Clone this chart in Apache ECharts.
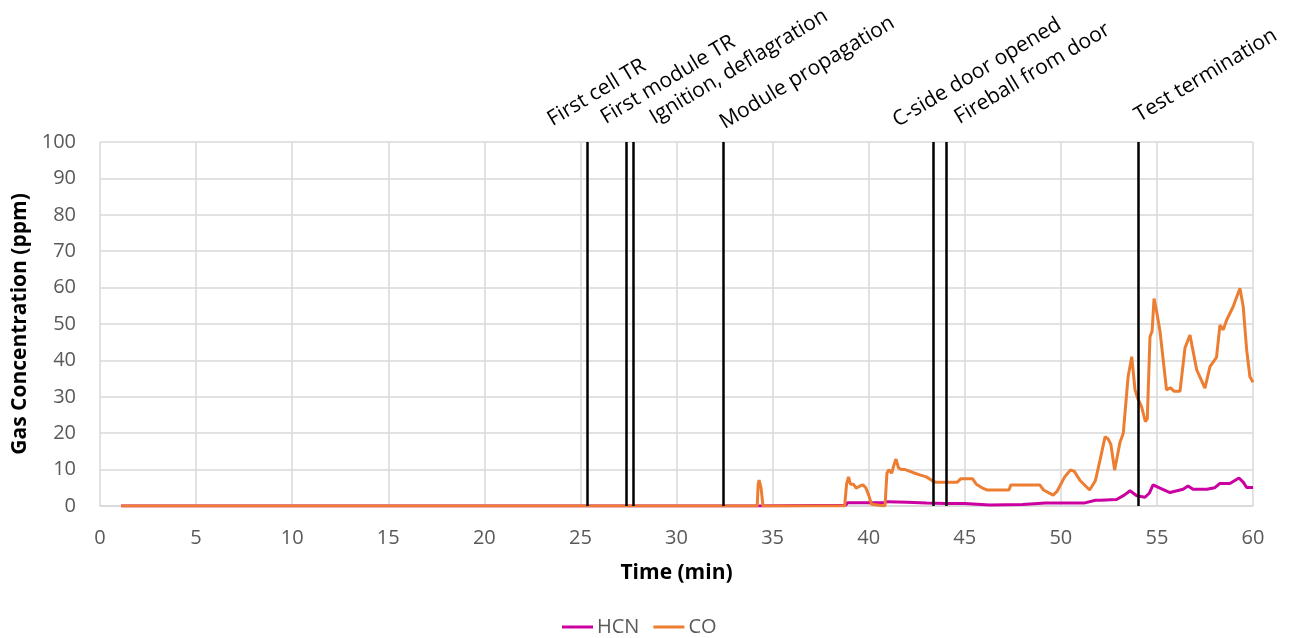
<!DOCTYPE html>
<html><head><meta charset="utf-8">
<script src="https://cdn.jsdelivr.net/npm/echarts@6/dist/echarts.min.js"></script>
<style>html,body{margin:0;padding:0;background:#fff}#c{width:1305px;height:638px}</style>
</head><body><div id="c"></div>
<script>
const xTicks = [0,5,10,15,20,25,30,35,40,45,50,55,60];
const yTicks = [0,10,20,30,40,50,60,70,80,90,100];

const coTime = [1.1,34.2,34.25,34.3,34.4,34.5,38.75,38.85,38.95,39.05,39.2,39.35,39.55,39.7,39.85,40.0,40.15,40.2,40.85,40.95,41.05,41.2,41.3,41.42,41.55,41.7,41.9,42.15,42.4,42.7,43.0,43.3,43.5,44.0,44.6,44.8,45.4,45.6,45.9,46.15,47.3,47.4,48.9,49.1,49.6,49.8,50.2,50.5,50.7,51.0,51.5,51.8,52.04,52.3,52.45,52.6,52.8,53.08,53.25,53.5,53.69,53.86,54.0,54.2,54.4,54.5,54.64,54.75,54.85,55.0,55.16,55.5,55.7,55.9,56.2,56.46,56.72,57.07,57.5,57.76,58.1,58.28,58.45,58.63,58.97,59.32,59.49,59.67,59.84,60];
const coVal = [0,0,6,7.1,5,0,0,6,8,6,6,4.9,5.5,5.8,5,3,0.5,0,0,9,10,9,11,12.9,10.5,10,10,9.5,9,8.5,8,7,6.5,6.5,6.5,7.5,7.5,6,5,4.4,4.4,5.8,5.8,4.4,3,4,8,9.9,9.5,7,4.4,7,12.6,19,18.5,17,9.9,17.5,20,35.5,41,31.9,29.6,27.3,23.2,24,46.5,48,57,53,48,31.9,32.5,31.5,31.5,43.4,47,37.4,32.4,38.3,40.8,49.7,48.4,51.1,54.8,59.8,54.8,42.9,35.5,34];

const hcnTime = [1.1,34.0,38.8,38.9,40.8,41.0,42,43,44,45,46.3,48,49.2,50,51.2,51.8,52.04,52.9,53.3,53.6,53.95,54.38,54.6,54.8,55.16,55.68,56.36,56.62,56.88,57.6,58.0,58.28,58.8,59.27,59.5,59.67,60];
const hcnVal = [0,0,0.2,0.9,0.9,1.2,1,0.8,0.7,0.7,0.3,0.4,0.8,0.8,0.8,1.6,1.6,1.8,3,4.2,2.8,2.4,3.5,5.8,4.9,3.7,4.6,5.5,4.6,4.6,5,6.2,6.2,7.7,6.5,5.1,5.1];

const eventTimes = [25.34,27.37,27.74,32.42,43.35,44.02,54.01];
const eventLabels = ['First cell TR','First module TR','Ignition, deflagration','Module propagation','C-side door opened','Fireball from door','Test termination'];
// label layout (pixel offsets from line top), not data
const labelDx = [-32,-18,24,4,-33,16,4];
const labelDy = [-12,-14,-14,-9,-11,-14,-16];

const FONT = 'Open Sans';
const chart = echarts.init(document.getElementById('c'), null, {renderer:'canvas'});
const zip = (a,b)=>a.map((t,i)=>[t,b[i]]);

chart.setOption({
  animation:false,
  textStyle:{fontFamily:FONT},
  grid:{left:100,right:52,top:142,bottom:132,containLabel:false},
  legend:{
    top:612,left:557,itemWidth:31,itemHeight:3,itemGap:14,icon:'rect',
    textStyle:{fontFamily:FONT,fontSize:20,color:'#595959',padding:[0,0,0,-1]},
    data:['HCN','CO']
  },
  xAxis:{
    type:'value',min:0,max:60,interval:5,
    name:'Time (min)',nameLocation:'middle',nameGap:57,
    nameTextStyle:{fontFamily:FONT,fontSize:21,fontWeight:'bold',color:'#000'},
    axisLine:{show:true,lineStyle:{color:'#D9D9D9',width:1.5}},
    axisTick:{show:false},
    axisLabel:{fontFamily:FONT,fontSize:20,color:'#595959',margin:22,formatter:v=>xTicks.includes(v)?String(v):''},
    splitLine:{show:true,lineStyle:{color:'#D9D9D9',width:1.5}}
  },
  yAxis:{
    type:'value',min:0,max:100,interval:10,
    name:'Gas Concentration (ppm)',nameLocation:'middle',nameGap:69,
    nameTextStyle:{fontFamily:FONT,fontSize:21,fontWeight:'bold',color:'#000'},
    axisLine:{show:false},axisTick:{show:false},
    axisLabel:{fontFamily:FONT,fontSize:20,color:'#595959',margin:24,formatter:v=>yTicks.includes(v)?String(v):''},
    splitLine:{show:true,lineStyle:{color:'#D9D9D9',width:1.5}}
  },
  series:[
    {name:'HCN',type:'line',data:zip(hcnTime,hcnVal),showSymbol:false,symbol:'none',
     lineStyle:{color:'#CC00A0',width:3},itemStyle:{color:'#CC00A0'},z:3},
    {name:'CO',type:'line',data:zip(coTime,coVal),showSymbol:false,symbol:'none',
     lineStyle:{color:'#ED7D31',width:3},itemStyle:{color:'#ED7D31'},z:4},
    {name:'events',type:'line',data:[],silent:true,z:5,
     markLine:{symbol:['none','none'],silent:true,animation:false,
       label:{show:false},
       lineStyle:{color:'#000',width:2.5,type:'solid'},
       data:eventTimes.map(t=>({xAxis:t}))}}
  ]
});

const topY = chart.convertToPixel({gridIndex:0},[0,100])[1];
chart.setOption({
  graphic:eventTimes.map((t,i)=>{
    const px = chart.convertToPixel({gridIndex:0},[t,100])[0];
    return {type:'text',x:px+labelDx[i],y:topY+labelDy[i],rotation:31*Math.PI/180,
      style:{text:eventLabels[i],fontFamily:FONT,fontSize:21,fill:'#000',align:'left',verticalAlign:'bottom'}};
  })
});
</script></body></html>
